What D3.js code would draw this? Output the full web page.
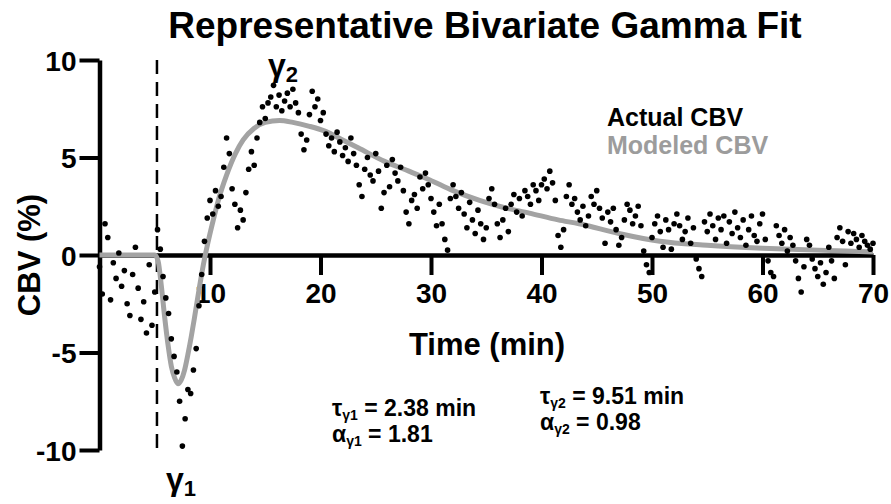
<!DOCTYPE html>
<html>
<head>
<meta charset="utf-8">
<script src="https://cdn.jsdelivr.net/npm/d3@7"></script>
<style>
  body { margin: 0; background: #fff; }
  text { font-family: "Liberation Sans", Arial, Helvetica, sans-serif; font-weight: bold; }
</style>
</head>
<body>
<div class="canvas"></div>
<script>
// sampled CBV signal, one value every 0.25 min from 0 to 70 min
const sampleStep = 0.25
const cbvActual = [
  -0.6, -2.0, 1.6, 0.9,
  -2.3, -0.4, -1.2, 0.1,
  -1.6, -0.8, -2.5, -3.1,
  -1.0, 0.4, -1.7, -3.3,
  -2.4, -4.0, -0.5, -3.6,
  -1.9, 1.3, 0.3, -1.1,
  -2.2, -3.0, -4.3, -5.2,
  -6.0, -7.5, -9.8, -8.4,
  -6.9, -7.1, -5.9, -4.8,
  -2.6, -1.0, 0.7, 1.9,
  2.8, 2.1, 3.3, 2.5,
  3.0, 4.5, 6.0, 5.2,
  3.4, 2.6, 1.4, 2.3,
  1.8, 3.2, 4.4, 5.3,
  4.6, 6.0, 6.8, 7.6,
  7.0, 7.8, 8.1, 8.7,
  7.6, 8.2, 7.4, 7.9,
  8.3, 7.6, 8.5, 7.8,
  7.3, 6.2, 5.4, 5.9,
  7.2, 8.4, 7.6, 8.0,
  6.9, 7.3, 6.2, 5.6,
  6.0, 5.3, 6.3, 5.8,
  5.1, 5.5, 4.8, 6.0,
  5.2, 4.6, 3.6, 3.0,
  4.4, 5.0, 4.1, 3.8,
  5.2, 4.3, 2.4, 3.2,
  4.6, 3.5, 4.9, 4.2,
  3.8, 4.5, 3.3, 2.2,
  1.6, 2.8, 3.1, 2.4,
  4.0, 3.4, 4.2, 3.6,
  2.9, 2.2, 1.5, 2.6,
  1.6, 0.8, 0.25, 2.9,
  3.6, 3.0, 2.4, 3.2,
  2.1, 1.4, 2.7, 1.8,
  1.1, 2.3, 1.6, 0.8,
  1.4, 2.9, 3.4, 2.6,
  1.6, 0.9, 1.8, 2.4,
  1.2, 2.6, 3.1, 2.2,
  2.9, 2.0, 3.3, 3.0,
  2.6, 3.6, 3.3, 2.8,
  3.6, 3.9, 3.4, 4.3,
  3.7, 2.8, 1.0, 0.4,
  1.3, 3.0, 3.6, 2.6,
  2.9, 2.2, 1.8, 2.5,
  1.5, 2.0, 3.0, 2.6,
  3.3, 2.4, 1.9, 0.6,
  2.2, 1.7, 2.4, 1.3,
  0.5, 0.9, 1.8, 2.6,
  2.3, 1.6, 2.0, 2.5,
  1.5, 0.2, -0.5, -0.9,
  0.9, 1.6, 2.0, 1.2,
  0.4, 1.8, 1.3, 0.3,
  1.6, 2.1, 1.5, 0.8,
  1.2, 1.9, 0.6, 1.4,
  -0.2, -0.7, -1.1, 1.7,
  1.2, 2.1, 1.5, 0.8,
  1.9, 1.3, 2.0, 0.6,
  1.7, 1.1, 2.2, 1.4,
  0.9, 1.8, 0.5, 1.3,
  2.0, 1.0, 0.7, 1.6,
  2.1, 0.8, -0.3, -0.9,
  -1.1, 1.5, 1.0, 0.6,
  1.3, 0.2, 0.9, 0.5,
  -0.3, -1.2, -1.9, -0.6,
  0.8, 0.5, -0.2, -0.7,
  -1.1, -0.4, -1.5, -0.9,
  0.4, -0.3, -1.2, 0.9,
  1.4, 0.7, -0.5, 1.2,
  0.6, 1.1, 0.8, 0.4,
  1.0, 0.7, 0.5, 0.3,
  0.6
]

// modeled (gamma fit) curve
const fitTimes = [0, 5.0, 5.3, 5.6, 5.9, 6.2, 6.5, 6.8, 7.1, 7.4, 7.7, 8.0, 8.3, 8.6, 9.0, 9.4, 9.8,
  10.3, 10.8, 11.5, 12.3, 13.0, 14.0, 15.0, 16.3, 17.5, 19.0, 20.4, 22.0, 23.4, 25.8, 28.0, 29.9,
  32.0, 34.4, 36.5, 38.9, 41.5, 43.4, 47.0, 50.7, 55.0, 60.0, 65.0, 70.0]
const fitValues = [0, 0, -0.3, -1.6, -3.2, -4.6, -5.7, -6.3, -6.6, -6.4, -5.9, -5.1, -4.2, -3.2, -1.8, -0.5, 0.6,
  1.8, 2.9, 4.1, 5.2, 5.9, 6.5, 6.8, 6.9, 6.8, 6.6, 6.35, 5.9, 5.5, 4.8, 4.3, 3.85,
  3.3, 2.8, 2.45, 2.15, 1.8, 1.6, 1.1, 0.7, 0.5, 0.35, 0.25, 0.15]

const xTicks = [10, 20, 30, 40, 50, 60, 70]
const yTicks = [-10, -5, 0, 5, 10]
const onsetTime = 5.2

const svg = d3.select('.canvas')
  .append('svg')
  .attr('width', 891)
  .attr('height', 504)

const margin = { top: 60, right: 18, bottom: 54, left: 99.5 }
const graphWidth = 891 - margin.left - margin.right
const graphHeight = 504 - margin.top - margin.bottom

const graph = svg.append('g')
  .attr('transform', `translate(${margin.left}, ${margin.top})`)

// scales
const x = d3.scaleLinear().domain([0, 70]).range([0, graphWidth])
const y = d3.scaleLinear().domain([-10, 10]).range([graphHeight, 0])

// axes
const xAxis = d3.axisBottom(x)
  .tickValues(xTicks)
  .tickSize(20)
  .tickSizeOuter(0)
  .tickPadding(8)
const yAxis = d3.axisLeft(y)
  .tickValues(yTicks)
  .tickSize(20)
  .tickSizeOuter(0)
  .tickPadding(3)
  .tickFormat(d => String(d))

const yAxisGroup = graph.append('g').call(yAxis)
const xAxisGroup = graph.append('g')
  .attr('transform', `translate(0, ${y(0)})`)
  .call(xAxis)

;[xAxisGroup, yAxisGroup].forEach(g => {
  g.select('.domain').attr('stroke', '#000').attr('stroke-width', 4.5)
  g.selectAll('.tick line').attr('stroke', '#000').attr('stroke-width', 4)
  g.selectAll('.tick text')
    .attr('fill', '#000')
    .style('font-size', '28px')
    .style('font-family', '"Liberation Sans", Arial, sans-serif')
    .style('font-weight', 'bold')
})
yAxisGroup.selectAll('.tick text').attr('dy', '0.36em')

// onset marker
graph.append('line')
  .attr('x1', x(onsetTime)).attr('x2', x(onsetTime))
  .attr('y1', y(10)).attr('y2', y(-10) + 4)
  .attr('stroke', '#000')
  .attr('stroke-width', 2.5)
  .attr('stroke-dasharray', '14 8')

// fitted curve
const fit = fitTimes.map((t, i) => ({ t, v: fitValues[i] }))
const line = d3.line()
  .x(d => x(d.t))
  .y(d => y(d.v))
  .curve(d3.curveMonotoneX)

graph.append('path')
  .datum(fit)
  .attr('d', line)
  .attr('fill', 'none')
  .attr('stroke', '#a3a3a3')
  .attr('stroke-width', 5)

// actual samples
graph.selectAll('circle')
  .data(cbvActual)
  .enter()
  .append('circle')
  .attr('cx', (d, i) => x(i * sampleStep))
  .attr('cy', d => y(d))
  .attr('r', 2.8)
  .attr('fill', '#000')

// titles
svg.append('text')
  .attr('x', 485).attr('y', 38)
  .attr('text-anchor', 'middle')
  .style('font-size', '37px')
  .text('Representative Bivariate Gamma Fit')

svg.append('text')
  .attr('x', 487).attr('y', 355)
  .attr('text-anchor', 'middle')
  .style('font-size', '31px')
  .text('Time (min)')

svg.append('text')
  .attr('transform', 'translate(40, 255) rotate(-90)')
  .attr('text-anchor', 'middle')
  .style('font-size', '31px')
  .text('CBV (%)')

// legend
svg.append('text')
  .attr('x', 607).attr('y', 126)
  .style('font-size', '25px')
  .attr('fill', '#000')
  .text('Actual CBV')
svg.append('text')
  .attr('x', 607).attr('y', 154)
  .style('font-size', '25px')
  .attr('fill', '#9c9c9c')
  .text('Modeled CBV')

// gamma labels
const gammaLabel = (px, py, sub) => {
  const t = svg.append('text').attr('x', px).attr('y', py).style('font-size', '32px')
  t.append('tspan').text('γ')
  t.append('tspan').attr('dy', 6).style('font-size', '22px').text(sub)
}
gammaLabel(268, 76, '2')
gammaLabel(166, 490, '1')

// fit parameters
const paramLabel = (px, py, sym, sub, rest) => {
  const t = svg.append('text').attr('x', px).attr('y', py).style('font-size', '23px')
  t.append('tspan').text(sym)
  t.append('tspan').attr('dy', 4).style('font-size', '14px').text('γ' + sub)
  t.append('tspan').attr('dy', -4).text(' ' + rest)
}
paramLabel(332, 416, 'τ', '1', '= 2.38 min')
paramLabel(332, 442, 'α', '1', '= 1.81')
paramLabel(540, 404, 'τ', '2', '= 9.51 min')
paramLabel(540, 430, 'α', '2', '= 0.98')
</script>
</body>
</html>
